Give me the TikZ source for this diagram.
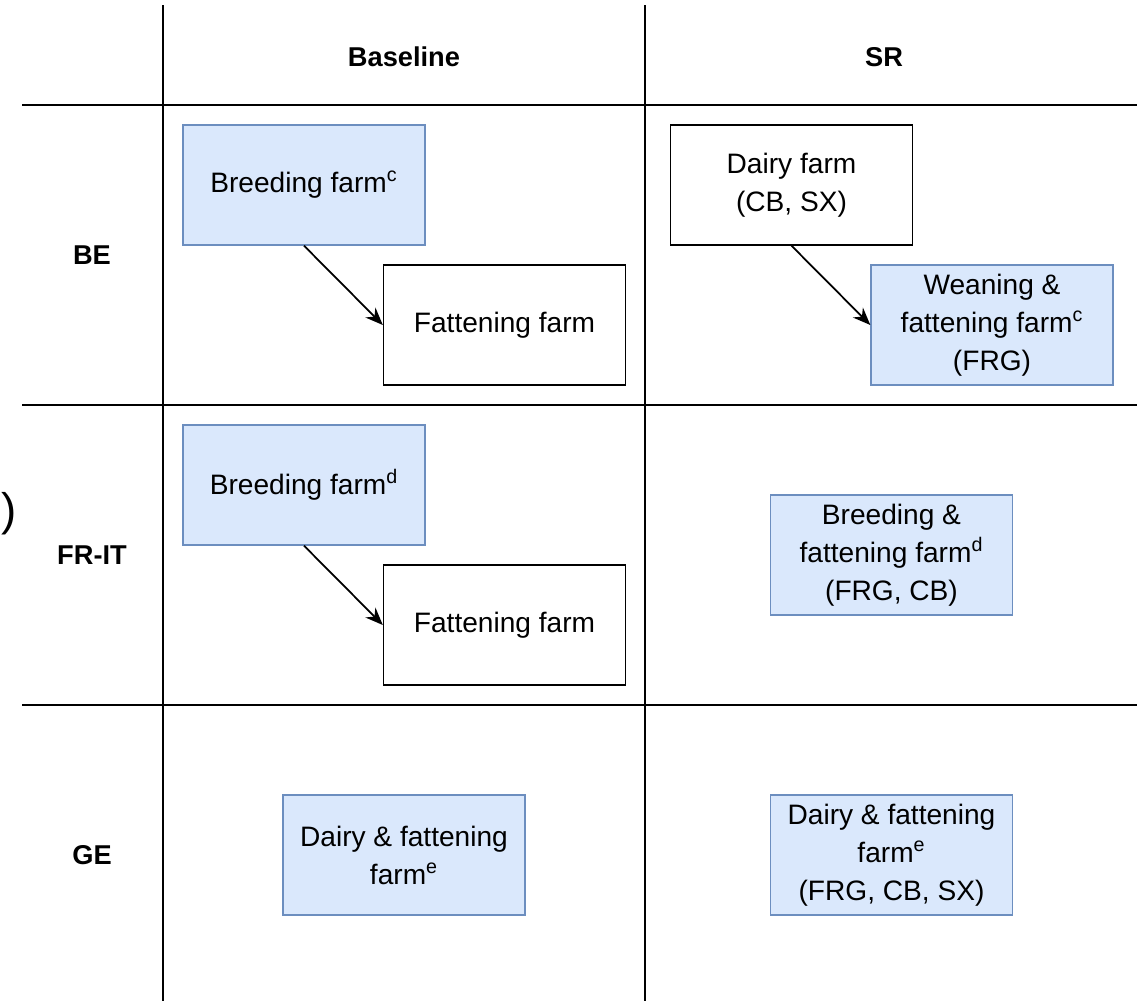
\documentclass[tikz,border=0pt]{standalone}
\usepackage{fontspec}
\setmainfont{Liberation Sans}
\usepackage{xcolor}
\usepackage{tikz}
\usetikzlibrary{arrows.meta}

\definecolor{boxblue}{HTML}{DAE8FC}
\definecolor{boxline}{HTML}{6C8EBF}

\tikzset{
  farm/.style={draw=black, line width=0.8pt, fill=white, minimum width=4.84cm,
    minimum height=2.4cm, align=center, inner sep=2pt,
    font=\fontsize{16}{21.6}\selectfont},
  bluefarm/.style={farm, draw=boxline, fill=boxblue},
  head/.style={font=\fontsize{15.5}{18}\selectfont\bfseries},
  link/.style={line width=1pt, -{Stealth[length=10pt,width=8pt]}},
  grid/.style={line width=1.1pt}
}

\begin{document}
\begin{tikzpicture}[x=0.02cm, y=-0.02cm]
\useasboundingbox (0,0) rectangle (1137,1001);

% table lines
\draw[grid] (163,5) -- (163,1001);
\draw[grid] (645,5) -- (645,1001);
\draw[grid] (22,105) -- (1137,105);
\draw[grid] (22,405) -- (1137,405);
\draw[grid] (22,705) -- (1137,705);

% headers
\node[head] (hbase) at (404,57) {Baseline};
\node[head] (hsr) at (884,57) {SR};
\node[head] (hbe) at (92,255) {BE};
\node[head] (hfrit) at (92,555) {FR-IT};
\node[head] (hge) at (92,855) {GE};
\node[font=\fontsize{26}{30}\selectfont] (paren) at (9,514) {)};

% BE
\node[bluefarm] (breedc) at (304,185) {Breeding farm\textsuperscript{c}};
\node[farm] (fatbe) at (504.5,325) {Fattening farm};
\node[farm] (dairy) at (791.5,185) {Dairy farm\\(CB, SX)};
\node[bluefarm] (weanc) at (992,325) {Weaning \&\\fattening farm\textsuperscript{c}\\(FRG)};
\draw[link] (breedc.south) -- (fatbe.west);
\draw[link] (dairy.south) -- (weanc.west);

% FR-IT
\node[bluefarm] (breedd) at (304,485) {Breeding farm\textsuperscript{d}};
\node[farm] (fatfrit) at (504.5,625) {Fattening farm};
\node[bluefarm] (breedfatd) at (891.5,555) {Breeding \&\\fattening farm\textsuperscript{d}\\(FRG, CB)};
\draw[link] (breedd.south) -- (fatfrit.west);

% GE
\node[bluefarm] (dairyge) at (404,855) {Dairy \& fattening\\farm\textsuperscript{e}};
\node[bluefarm] (dairysr) at (891.5,855) {Dairy \& fattening\\farm\textsuperscript{e}\\(FRG, CB, SX)};
\end{tikzpicture}
\end{document}
